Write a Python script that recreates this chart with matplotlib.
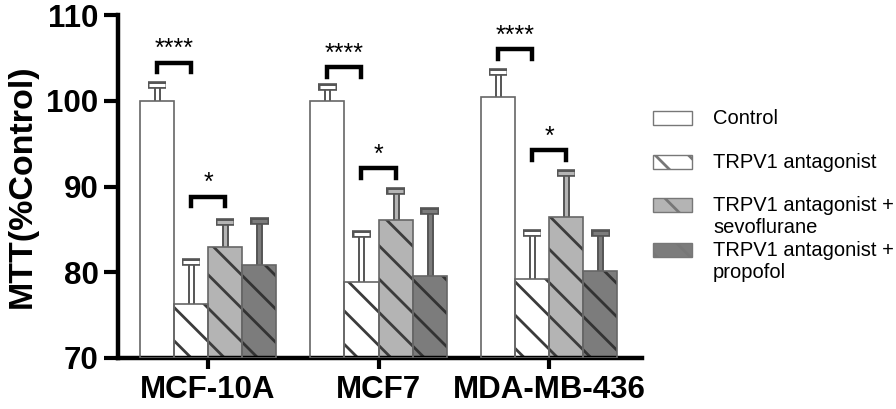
import numpy as np
import matplotlib
matplotlib.use("Agg")
import matplotlib.pyplot as plt
from matplotlib.patches import Rectangle

plt.rcParams['font.family'] = ['Liberation Sans', 'DejaVu Sans']
plt.rcParams['hatch.linewidth'] = 2.0

cells = ['MCF-10A', 'MCF7', 'MDA-MB-436']
groups = ['Control', 'TRPV1 antagonist', 'TRPV1 antagonist +\nsevoflurane',
          'TRPV1 antagonist +\npropofol']

control = [100.0, 100.0, 100.4]
trpv1 = [76.3, 78.9, 79.2]
sevo = [83.0, 86.1, 86.5]
propofol = [80.8, 79.6, 80.1]

control_err = [101.8, 101.6, 103.3]
trpv1_err = [81.2, 84.5, 84.6]
sevo_err = [85.9, 89.5, 91.6]
propofol_err = [86.0, 87.1, 84.6]

# heights of the significance brackets
star_hi = [104.4, 103.9, 106.0]
star_lo = [88.8, 92.1, 94.2]

means = [control, trpv1, sevo, propofol]
tops = [control_err, trpv1_err, sevo_err, propofol_err]
faces = ['white', 'white', '#b4b4b4', '#7c7c7c']
hatches = [None, '\\', '\\', '\\']
hcols = ['#666666', '#3c3c3c', '#3c3c3c', '#333333']

fig = plt.figure(figsize=(8.96, 4.09), dpi=100)
ax = fig.add_axes([0.1317, 0.1247, 0.5848, 0.8386])

x = np.arange(len(cells))
w = 0.2
offs = [-1.5 * w, -0.5 * w, 0.5 * w, 1.5 * w]

for i in range(4):
    xs = x + offs[i]
    # error bars (upper only), outlined look
    ax.vlines(xs, means[i], tops[i], color='#555555', lw=5, zorder=1)
    ax.vlines(xs, means[i], tops[i], color=faces[i], lw=2.2, zorder=1.1)
    ax.hlines(tops[i], xs - 0.055, xs + 0.055, color='#555555', lw=5.5, zorder=1.2)
    ax.hlines(tops[i], xs - 0.045, xs + 0.045, color=faces[i], lw=2.2, zorder=1.3)
    # bars
    ax.bar(xs, np.array(means[i]) - 70, w, bottom=70, color=faces[i],
           hatch=hatches[i], edgecolor=hcols[i], linewidth=0, zorder=2)
    ax.bar(xs, np.array(means[i]) - 70, w, bottom=70, fill=False,
           edgecolor='#666666', linewidth=1.2, zorder=3)

# significance brackets
for j in range(len(cells)):
    for (a, b, h, lab) in [(0, 1, star_hi[j], '****'), (1, 2, star_lo[j], '*')]:
        xa, xb = x[j] + offs[a], x[j] + offs[b]
        ax.plot([xa, xa, xb, xb], [h - 1.1, h, h, h - 1.1], color='black',
                lw=3.2, solid_joinstyle='miter', zorder=4, clip_on=False)
        ax.text((xa + xb) / 2, h + 0.2, lab, ha='center', va='bottom',
                fontsize=18, zorder=4)

ax.set_xlim(-0.528, 2.545)
ax.set_ylim(70, 110)
ax.set_yticks([70, 80, 90, 100, 110])
ax.set_xticks(x)
ax.set_xticklabels(cells)
for lab in ax.get_xticklabels() + ax.get_yticklabels():
    lab.set_fontweight('bold')
    lab.set_fontsize(22.5)
ax.tick_params(axis='y', length=10, width=3, pad=4)
ax.tick_params(axis='x', length=8, width=3, pad=4)
ax.set_ylabel('MTT(%Control)', fontsize=24.5, fontweight='bold', labelpad=6)
for s in ['top', 'right']:
    ax.spines[s].set_visible(False)
for s in ['left', 'bottom']:
    ax.spines[s].set_linewidth(3.2)

# legend drawn by hand to keep the uneven row spacing
patch_y = [118, 162, 205, 250]
text_y = [118, 163, 217, 262]
W, H = 896, 409
for i in range(4):
    r = Rectangle((653 / W, 1 - (patch_y[i] + 7) / H), 39 / W, 14 / H,
                  transform=fig.transFigure, facecolor=faces[i],
                  hatch=hatches[i], edgecolor='#777777', linewidth=1.0)
    fig.add_artist(r)
    fig.text(713 / W, 1 - text_y[i] / H, groups[i], fontsize=14.5,
             va='center', ha='left', linespacing=1.2)

fig.savefig('out.png', dpi=100)
